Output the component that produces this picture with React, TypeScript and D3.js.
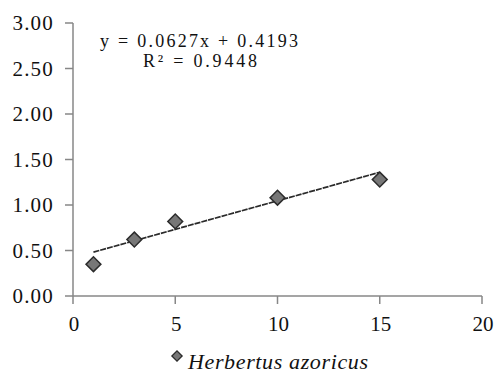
import * as d3 from 'd3';
import React from 'react';

// data
const xValues: number[] = [1, 3, 5, 10, 15];
const yValues: number[] = [0.35, 0.62, 0.82, 1.08, 1.28];
const xTicks: number[] = [0, 5, 10, 15, 20];
const yTicks: number[] = [0, 0.5, 1, 1.5, 2, 2.5, 3];
const slope = 0.0627;
const intercept = 0.4193;
const equationLines: string[] = ['y = 0.0627x + 0.4193', 'R² = 0.9448'];
const seriesName = 'Herbertus azoricus';

const width = 499;
const height = 374;
const marginLeft = 73;
const marginRight = 17;
const marginTop = 23;
const plotBottom = 296;

const font = 'Liberation Serif';

const App: React.FC = () => {
    const x = d3.scaleLinear().domain([0, 20]).range([marginLeft, width - marginRight]);
    const y = d3.scaleLinear().domain([0, 3]).range([plotBottom, marginTop]);

    const points = xValues.map((v, i) => [v, yValues[i]] as [number, number]);
    const xMin = d3.min(xValues) ?? 0;
    const xMax = d3.max(xValues) ?? 0;
    // trendline drawn from the fitted equation shown on the chart
    const trend: [number, number][] = [
        [xMin, slope * xMin + intercept],
        [xMax, slope * xMax + intercept],
    ];
    const line = d3
        .line<[number, number]>()
        .x((d) => x(d[0]))
        .y((d) => y(d[1]));

    const diamond = d3.symbol().type(d3.symbolSquare).size(110)();
    const smallDiamond = d3.symbol().type(d3.symbolSquare).size(52)();
    const axisColor = '#878787';

    return (
        <svg
            width={width}
            height={height}
            style={{ position: 'absolute', left: 0, top: 0, background: '#fff' }}
            fontFamily={font}
        >
            {/* y axis */}
            <line x1={x(0)} x2={x(0)} y1={y(3)} y2={y(0)} stroke={axisColor} strokeWidth={1.5} />
            {yTicks.map((t) => (
                <g key={t}>
                    <line x1={x(0) - 8} x2={x(0)} y1={y(t)} y2={y(t)} stroke={axisColor} strokeWidth={1.5} />
                    <text x={54} y={y(t) + 7} textAnchor="end" fontSize={21} letterSpacing={1.2} fill="#111">
                        {t.toFixed(2)}
                    </text>
                </g>
            ))}
            {/* x axis */}
            <line x1={x(0)} x2={x(20)} y1={y(0)} y2={y(0)} stroke={axisColor} strokeWidth={1.5} />
            {xTicks.map((t) => (
                <g key={t}>
                    <line x1={x(t)} x2={x(t)} y1={y(0)} y2={y(0) + 8} stroke={axisColor} strokeWidth={1.5} />
                    <text x={x(t) + 1} y={331} textAnchor="middle" fontSize={21} fill="#111">
                        {t}
                    </text>
                </g>
            ))}
            {/* trendline */}
            <path
                d={line(trend) ?? ''}
                fill="none"
                stroke="#2a2a2a"
                strokeWidth={1.7}
                strokeDasharray="6 1"
            />
            {/* points */}
            {points.map((p, i) => (
                <path
                    key={i}
                    d={diamond ?? ''}
                    transform={`translate(${x(p[0])},${y(p[1])}) rotate(45)`}
                    fill="#777"
                    stroke="#2b2b2b"
                    strokeWidth={1.5}
                />
            ))}
            {/* equation */}
            <text x={100} y={47} fontSize={18} textLength={198} fill="#111">
                {equationLines[0]}
            </text>
            <text x={143} y={67} fontSize={18} textLength={114} fill="#111">
                {equationLines[1]}
            </text>
            {/* legend */}
            <path
                d={smallDiamond ?? ''}
                transform="translate(177,356) rotate(45)"
                fill="#777"
                stroke="#2b2b2b"
                strokeWidth={1.3}
            />
            <text x={188} y={369} fontSize={22} fontStyle="italic" textLength={180} fill="#111">
                {seriesName}
            </text>
        </svg>
    );
};

export default App;
